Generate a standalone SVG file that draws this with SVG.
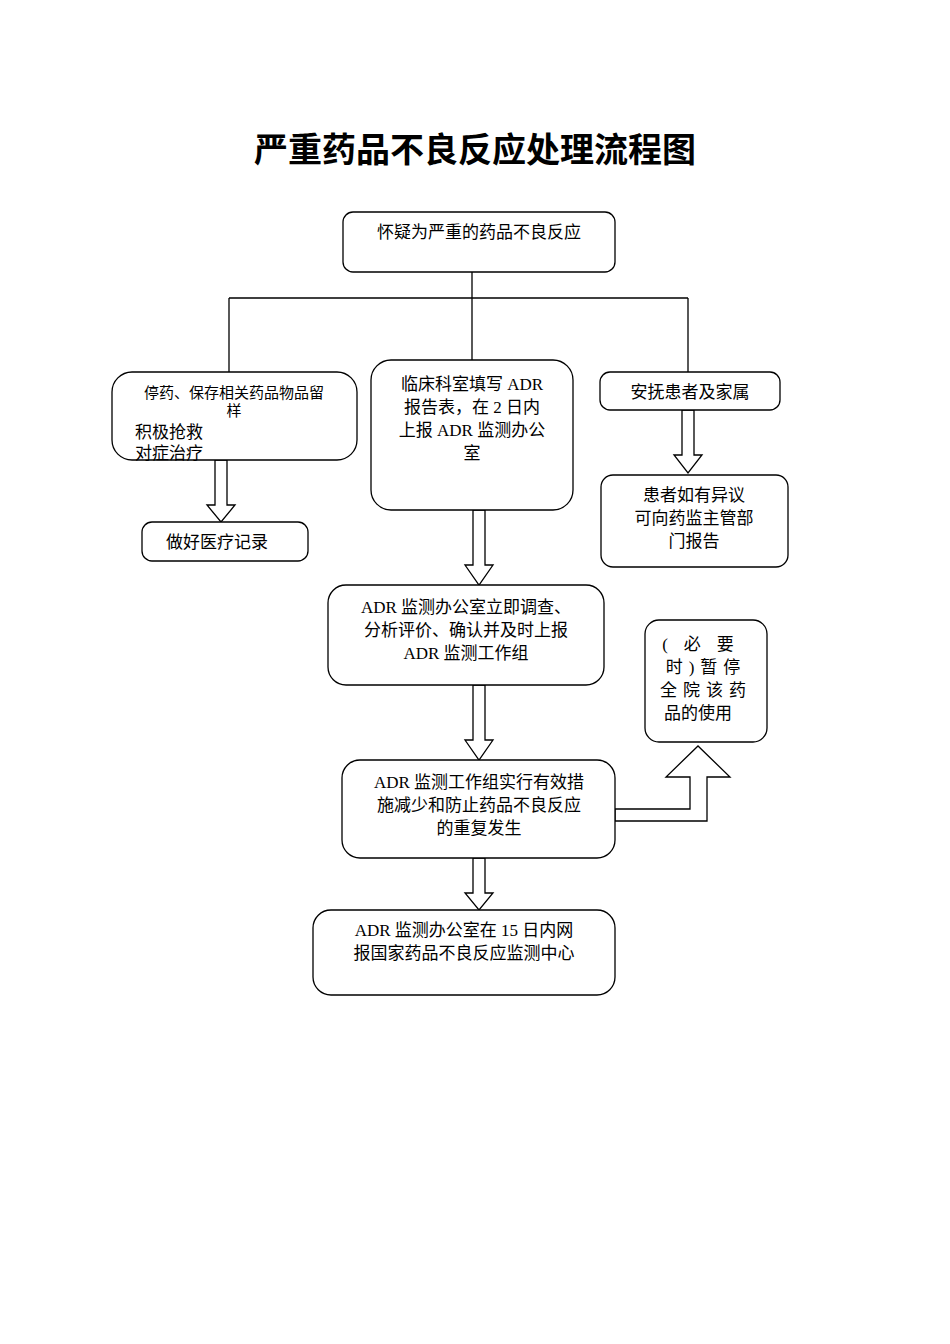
<svg xmlns="http://www.w3.org/2000/svg" width="950" height="1344" viewBox="0 0 950 1344">
<style>
text{font-family:"Liberation Serif","Noto Sans CJK SC",serif;font-size:17px;fill:#000;text-anchor:middle}
.b{fill:#fff;stroke:#000;stroke-width:1.3}
.l{fill:none;stroke:#000;stroke-width:1.3}
</style>
<rect width="950" height="1344" fill="#fff"/>
<text x="475" y="162" style="font-size:34px;font-weight:bold">严重药品不良反应处理流程图</text>
<g id="connectors">
<path class="l" d="M472 272V360M229 298H688M229 298V372M688 298V372"/>
<polygon class="b" points="215,460 227,460 227,505 235,505 221,522 207,505 215,505"/>
<polygon class="b" points="473,510 485,510 485,565 493,565 479,585 465,565 473,565"/>
<polygon class="b" points="682,410 694,410 694,455 702,455 688,473 674,455 682,455"/>
<polygon class="b" points="473,685 485,685 485,740 493,740 479,760 465,740 473,740"/>
<polygon class="b" points="473,858 485,858 485,893 493,893 479,910 465,893 473,893"/>
<polygon class="b" points="615,809 690,809 690,777 666,777 698,746 730,777 707,777 707,821 615,821"/>
</g>
<g id="n1"><rect class="b" x="343" y="212" width="272" height="60" rx="10"/><text x="479" y="238">怀疑为严重的药品不良反应</text></g>
<g id="n2"><rect class="b" x="112" y="372" width="245" height="88" rx="20"/>
<text x="234" y="398" style="font-size:15px">停药、保存相关药品物品留</text><text x="234" y="416" style="font-size:15px">样</text>
<text x="135" y="438" style="text-anchor:start">积极抢救</text><text x="135" y="459" style="text-anchor:start">对症治疗</text></g>
<g id="n3"><rect class="b" x="371" y="360" width="202" height="150" rx="20"/>
<text x="472" y="390">临床科室填写 ADR</text><text x="472" y="413">报告表，在 2 日内</text><text x="472" y="436">上报 ADR 监测办公</text><text x="472" y="459">室</text></g>
<g id="n4"><rect class="b" x="600" y="372" width="180" height="38" rx="10"/><text x="690" y="398">安抚患者及家属</text></g>
<g id="n5"><rect class="b" x="142" y="522" width="166" height="39" rx="10"/><text x="217" y="548">做好医疗记录</text></g>
<g id="n6"><rect class="b" x="601" y="475" width="187" height="92" rx="12"/>
<text x="694" y="501">患者如有异议</text><text x="694" y="524">可向药监主管部</text><text x="694" y="547">门报告</text></g>
<g id="n7"><rect class="b" x="328" y="585" width="276" height="100" rx="18"/>
<text x="466" y="613">ADR 监测办公室立即调查、</text><text x="466" y="636">分析评价、确认并及时上报</text><text x="466" y="659">ADR 监测工作组</text></g>
<g id="n8"><rect class="b" x="645" y="620" width="122" height="122" rx="14"/>
<text x="706" y="650" style="letter-spacing:16px">(必要</text><text x="706" y="673" style="letter-spacing:6px">时)暂停</text><text x="706" y="696" style="letter-spacing:6px">全院该药</text><text x="698" y="719">品的使用</text></g>
<g id="n9"><rect class="b" x="342" y="760" width="273" height="98" rx="18"/>
<text x="479" y="788">ADR 监测工作组实行有效措</text><text x="479" y="811">施减少和防止药品不良反应</text><text x="479" y="834">的重复发生</text></g>
<g id="n10"><rect class="b" x="313" y="910" width="302" height="85" rx="18"/>
<text x="464" y="936">ADR 监测办公室在 15 日内网</text><text x="464" y="959">报国家药品不良反应监测中心</text></g>
</svg>
